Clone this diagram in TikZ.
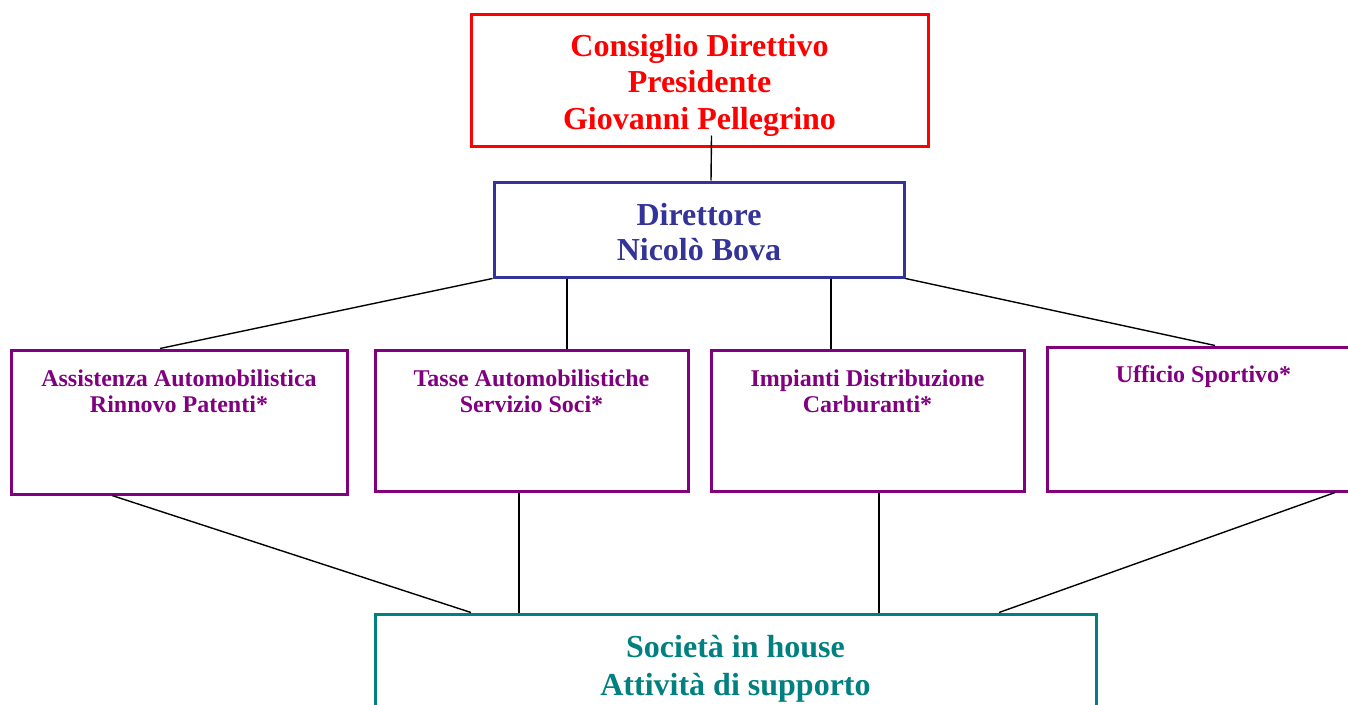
\documentclass[tikz,border=0pt]{standalone}
\usepackage{fontspec}
\setmainfont{Liberation Serif}
\definecolor{boardred}{HTML}{FF0000}
\definecolor{dirblue}{HTML}{333399}
\definecolor{deptpurple}{HTML}{800080}
\definecolor{socteal}{HTML}{008080}

\begin{document}
\begin{tikzpicture}[x=1pt,y=-1pt]
		\tikzstyle{box}=[draw,line width=3pt,inner sep=0pt]
		\tikzstyle{boxtext}=[anchor=north,inner sep=0pt,align=center]
		\tikzstyle{board}=[box,color=boardred,minimum width=457pt,minimum height=132pt]
		\tikzstyle{boardtext}=[boxtext,yshift=-21.5pt,text=boardred,font=\fontsize{32}{36.5}\selectfont\bfseries]
		\tikzstyle{director}=[box,color=dirblue,minimum width=410pt,minimum height=95pt]
		\tikzstyle{directortext}=[boxtext,yshift=-23pt,text=dirblue,font=\fontsize{32}{35}\selectfont\bfseries]
		\tikzstyle{dept}=[box,color=deptpurple,minimum width=313pt,minimum height=141pt]
		\tikzstyle{depttext}=[boxtext,yshift=-21pt,text=deptpurple,font=\fontsize{24}{26}\selectfont\bfseries]
		\tikzstyle{support}=[box,color=socteal,minimum width=721pt,minimum height=140pt]
		\tikzstyle{supporttext}=[boxtext,yshift=-23pt,text=socteal,font=\fontsize{32}{38}\selectfont\bfseries]
		\tikzstyle{link}=[line width=1.4pt]
		
		\useasboundingbox (0,0) rectangle (1348,704);
		
		\node[board](cd) at (699.5,80){};
		\node[boardtext] at (cd.north){Consiglio Direttivo\\Presidente\\Giovanni Pellegrino};
		\node[director](dir) at (699,229.5){};
		\node[directortext] at (dir.north){Direttore\\Nicolò Bova};
		
		\node[dept,minimum width=336pt,minimum height=144pt](ass) at (179,422){};
		\node[depttext] at (ass.north){Assistenza Automobilistica\\Rinnovo Patenti*};
		\node[dept](tas) at (531.5,420.5){};
		\node[depttext] at (tas.north){Tasse Automobilistiche\\Servizio Soci*};
		\node[dept](imp) at (867.5,420.5){};
		\node[depttext] at (imp.north){Impianti Distribuzione\\Carburanti*};
		\node[dept,minimum height=144pt](spo) at (1203.5,419){};
		\node[depttext,yshift=1pt] at (spo.north){Ufficio Sportivo*};
		
		\node[support](soc) at (735.5,684){};
		\node[supporttext] at (soc.north){Società in house\\Attività di supporto};
		
		\draw[link] ([xshift=12pt,yshift=12pt]cd.south) -- ([xshift=12pt]dir.north);
		
		\draw[link] (dir.south west) -- ([xshift=-19pt]ass.north);
		\draw[link] ([xshift=-132pt]dir.south) -- ([xshift=35.5pt]tas.north);
		\draw[link] ([xshift=132pt]dir.south) -- ([xshift=-36.5pt]imp.north);
		\draw[link] (dir.south east) -- ([xshift=11.5pt]spo.north);
		
		\draw[link] ([xshift=-67pt]ass.south) -- ([xshift=-264.5pt]soc.north);
		\draw[link] ([xshift=-12.5pt]tas.south) -- ([xshift=-216.5pt]soc.north);
		\draw[link] ([xshift=11.5pt]imp.south) -- ([xshift=143.5pt]soc.north);
		\draw[link] ([xshift=131.5pt]spo.south) -- ([xshift=263.5pt]soc.north);
\end{tikzpicture}
\end{document}
